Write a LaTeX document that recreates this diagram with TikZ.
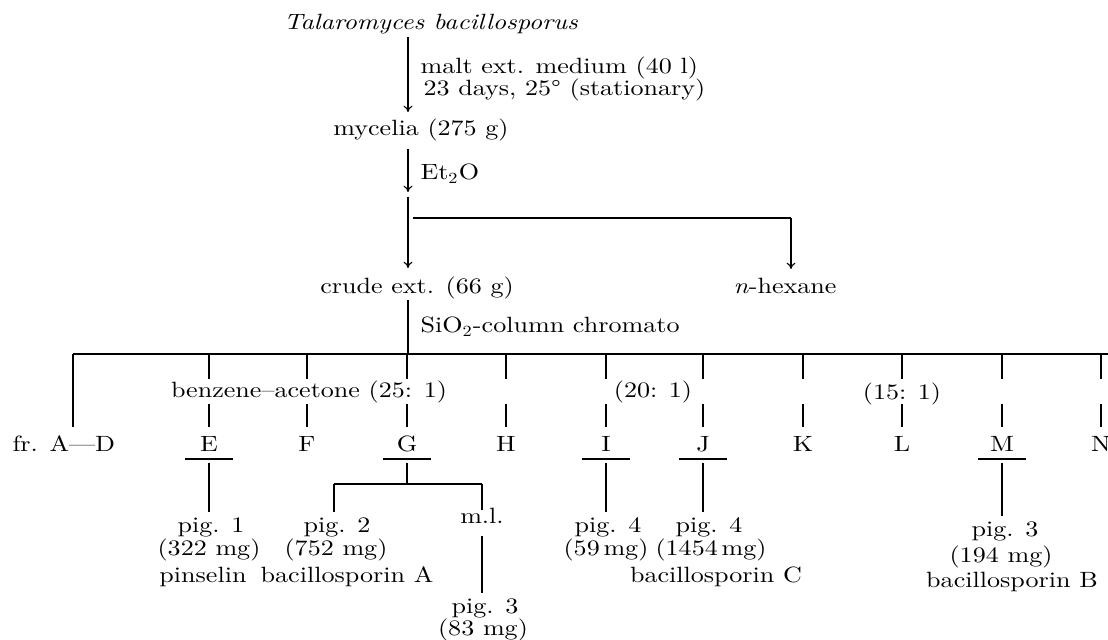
\documentclass[tikz,border=0pt]{standalone}
\usepackage{fontspec}
\setmainfont{lmroman10-regular.otf}[FakeStretch=1.18,ItalicFont=lmroman10-italic.otf,BoldFont=lmroman10-bold.otf]
\usetikzlibrary{arrows.meta,calc}
\begin{document}
\begin{tikzpicture}[x=0.3846pt,y=-0.3846pt,
  lbl/.style={inner sep=0pt,anchor=base,font=\fontsize{8.5}{10}\selectfont},
  lblw/.style={lbl,anchor=base west},
  ln/.style={line width=0.42pt},
  arr/.style={ln,-{Computer Modern Rightarrow[length=2.4pt,width=3.4pt]}},
]
\useasboundingbox (0,0) rectangle (1108,640);

% ---- upper part
\node[lbl]  (title) at (431,30) {\textit{Talaromyces bacillosporus}};
\node[lblw] (c1)    at (420,74) {malt ext. medium (40 l)};
\node[lblw] (c2)    at (423,96) {23 days, 25° (stationary)};
\node[lbl]  (myc)   at (421,136) {mycelia (275 g)};
\node[lblw] (et)    at (420,180) {Et\textsubscript{2}O};
\node[lbl]  (crude) at (417,294) {crude ext. (66 g)};
\node[lbl]  (hex)   at (785,294) {\textit{n}-hexane};
\node[lblw] (sio)   at (420,333) {SiO\textsubscript{2}-column chromato};

\coordinate (sp)  at (408,0);
\coordinate (ext) at (408,192);
\coordinate (hs)  at (413,218);
\coordinate (hj)  at (791,218);
\coordinate (barL) at (73,354);
\coordinate (barR) at (1108,354);

\draw[arr] ($(title.south -| sp)+(0,2)$) -- (sp |- 0,112);
\draw[arr] ($(myc.south -| sp)+(0,7)$) -- (ext);
\draw[arr] ($(ext)+(0,5)$) -- (sp |- 0,268);
\draw[ln] (hs) -- (hj);
\draw[arr] (hj) -- (hj |- 0,269);
\draw[ln] ($(crude.south -| sp)+(0,0)$) -- (sp |- barL);
\draw[ln] (barL) -- (barR);

% ---- fractions
\coordinate (yT1) at (0,379);
\coordinate (yT2) at (0,404);
\coordinate (yT3) at (0,427);
\coordinate (yU)  at (0,459);
\coordinate (yD1) at (0,463);

\node[lblw] (fAD) at (12,451) {fr. A---D};
\foreach \n/\x in {E/209,F/307,G/407,H/506,I/606,J/703,K/803,L/902,M/1002,N/1101}{
  \node[lbl] (f\n) at (\x,451) {\n};
}
\node[lbl] (r25) at (309,398) {benzene--acetone (25: 1)};
\node[lbl] (r20) at (653,398) {(20: 1)};
\node[lbl] (r15) at (902,400) {(15: 1)};

\draw[ln] (barL) -- (barL |- yT3);
\foreach \n in {E,F,G,H,I,J,K,L,M,N}{
  \draw[ln] (f\n |- barL) -- (f\n |- yT1);
  \draw[ln] (f\n |- yT2) -- (f\n |- yT3);
}
\foreach \n in {E,G,I,J,M}{
  \draw[ln] ($(f\n |- yU)+(-24,0)$) -- ($(f\n |- yU)+(24,0)$);
}

% ---- products
\node[lbl] (p1)  at (211,532) {pig. 1};
\node[lbl] (p1m) at (209,555) {(322 mg)};
\node[lbl] (p1n) at (203,582) {pinselin};
\node[lbl] (p2)  at (337,532) {pig. 2};
\node[lbl] (p2m) at (336,555) {(752 mg)};
\node[lbl] (p2n) at (347,582) {bacillosporin A};
\node[lbl] (ml)  at (482,523) {m.l.};
\node[lbl] (p3a) at (485,613) {pig. 3};
\node[lbl] (p3am) at (483,635) {(83 mg)};
\node[lbl] (p4a) at (608,532) {pig. 4};
\node[lbl] (p4am) at (606,555) {(59\,mg)};
\node[lbl] (p4b) at (709,532) {pig. 4};
\node[lbl] (p4bm) at (711,555) {(1454\,mg)};
\node[lbl] (p4bn) at (716,582) {bacillosporin C};
\node[lbl] (p3b) at (1005,536) {pig. 3};
\node[lbl] (p3bm) at (1001,562) {(194 mg)};
\node[lbl] (p3bn) at (1012,587) {bacillosporin B};

\coordinate (gL) at (334,484);
\coordinate (gR) at (482,484);

\foreach \n/\t in {E/p1,I/p4a,J/p4b,M/p3b}{
  \draw[ln] (f\n |- yD1) -- ($(\t.north -| f\n)+(0,-5)$);
}
\draw[ln] (fG |- yD1) -- (fG |- gL);
\draw[ln] (gL) -- (gR);
\draw[ln] (gL) -- ($(p2.north -| gL)+(0,-5)$);
\draw[ln] (gR) -- (gR |- 0,510);
\draw[ln] ($(ml.south -| gR)+(0,12)$) -- ($(p3a.north -| gR)+(0,-5)$);
\end{tikzpicture}
\end{document}
